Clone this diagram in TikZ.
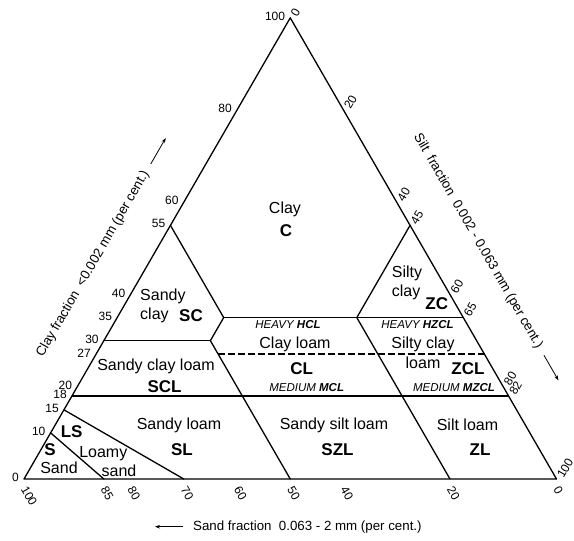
\documentclass[tikz,border=0pt]{standalone}
\usepackage{fontspec}
\setmainfont{Liberation Sans}
\usetikzlibrary{arrows.meta}
% ternary point: name, clay, silt  (pixel-based units, y up)
\newcommand{\tcoord}[3]{\coordinate (#1) at ({24+5.325*(#3+0.5*#2)},{62+4.6116*#2});}
\begin{document}
\begin{tikzpicture}[x=1pt,y=1pt,
  bline/.style={line width=1.3pt, line join=round, line cap=round},
  thickline/.style={line width=2.1pt},
  dashline/.style={line width=2pt, dash pattern=on 6.5pt off 3.5pt},
  cls/.style={font=\fontsize{16}{18}\selectfont, inner sep=0pt},
  abbr/.style={font=\fontsize{17}{19}\selectfont\bfseries, inner sep=0pt},
  grd/.style={font=\fontsize{11.5}{13}\selectfont\itshape, inner sep=0pt},
  lnum/.style={font=\fontsize{12}{14}\selectfont, inner sep=0pt, anchor=east},
  rnum/.style={font=\fontsize{12}{14}\selectfont, inner sep=0pt, anchor=west, rotate=60},
  bnum/.style={font=\fontsize{12}{14}\selectfont, inner sep=0pt, anchor=west, rotate=-60},
  axtitle/.style={font=\fontsize{13.3}{15}\selectfont, inner sep=0pt},
  axarrow/.style={line width=0.8pt, -{Stealth[length=5pt,width=3.6pt]}}
]
\fill[white] (0,0) rectangle (574,541);
\useasboundingbox (0,0) rectangle (574,541);

% corners and class-boundary points (clay, silt)
\tcoord{BL}{0}{0}
\tcoord{BR}{0}{100}
\tcoord{T}{100}{0}
\tcoord{L55}{55}{0}
\tcoord{R55}{55}{45}
\tcoord{P3520}{35}{20}
\tcoord{P3545}{35}{45}
\tcoord{R35}{35}{65}
\tcoord{L30}{30}{0}
\tcoord{P3020}{30}{20}
\tcoord{P27}{27}{23}
\tcoord{R27}{27}{73}
\tcoord{L18}{18}{0}
\tcoord{R18}{18}{82}
\tcoord{B50}{0}{50}
\tcoord{B20}{0}{80}
\tcoord{L15}{15}{0}
\tcoord{B70}{0}{30}
\tcoord{L10}{10}{0}
\tcoord{B85}{0}{15}

% boundaries
\draw[bline] (BL) -- (BR) -- (T) -- cycle;
\draw[bline] (L55) -- (P3520) -- (P3020) -- (B50);
\draw[bline] (R55) -- (P3545) -- (B20);
\draw[bline] (P3520) -- (R35);
\draw[bline] (L30) -- (P3020);
\draw[dashline] (P27) -- (R27);
\draw[thickline] (L18) -- (R18);
\draw[bline] (L15) -- (B70);
\draw[bline] (L10) -- (B85);

% left (clay) numbers
\foreach \v in {100,80,60,55,40,35,30,27,20,18,15,10,0}
  \node[lnum] (lnum\v) at ({24+5.325*0.5*\v-5},{62+4.6116*\v+1.5}) {\v};

% right (silt) numbers: clay/silt
\foreach \c/\z in {100/0,80/20,60/40,55/45,40/60,35/65,20/80,18/82,0/100}
  \node[rnum] (rnum\z) at ({24+5.325*(\z+0.5*\c)+3.5},{62+4.6116*\c+2}) {\z};

% bottom (sand) numbers
\foreach \s in {100,85,80,70,60,50,40,20,0}
  \node[bnum] (bnum\s) at ({24+5.325*(100-\s)},{62-8}) {\s};

% class names
\node[cls] (nC) at (285,332) {Clay};
\node[abbr] (aC) at (286,310) {C};

\node[cls, anchor=west] (nSC1) at (140,244.3) {Sandy};
\node[cls, anchor=west] (nSC2) at (140,226) {clay};
\node[abbr] (aSC) at (191,225) {SC};

\node[cls] (nSCL) at (156,175) {Sandy clay loam};
\node[abbr] (aSCL) at (164.5,154.3) {SCL};

\node[grd] (hHCL) at (288,216) {HEAVY \textbf{HCL}};
\node[cls] (nCL) at (295,197) {Clay loam};
\node[abbr] (aCL) at (301.7,172.7) {CL};
\node[grd] (mMCL) at (306.7,153.7) {MEDIUM \textbf{MCL}};

\node[grd] (hHZCL) at (417.5,216) {HEAVY \textbf{HZCL}};
\node[cls] (nZCL1) at (423,197) {Silty clay};
\node[cls] (nZCL2) at (423,178.3) {loam};
\node[abbr] (aZCL) at (468,172.7) {ZCL};
\node[grd] (mMZCL) at (454,153.7) {MEDIUM \textbf{MZCL}};

\node[cls, anchor=west] (nZC1) at (391.7,267.7) {Silty};
\node[cls, anchor=west] (nZC2) at (391.7,248.3) {clay};
\node[abbr] (aZC) at (436.7,237.7) {ZC};

\node[cls] (nSL) at (179,116) {Sandy loam};
\node[abbr] (aSL) at (182,91) {SL};

\node[abbr] (aLS) at (71.7,109.3) {LS};
\node[abbr] (aS) at (50,91) {S};
\node[cls] (nS) at (59,73.7) {Sand};
\node[cls] (nLS1) at (103.3,87) {Loamy};
\node[cls] (nLS2) at (119,70.3) {sand};

\node[cls] (nSZL) at (334,116) {Sandy silt loam};
\node[abbr] (aSZL) at (337.5,91) {SZL};

\node[cls] (nZL) at (467.5,116) {Silt loam};
\node[abbr] (aZL) at (480,91) {ZL};

% axis titles with arrows
\node[axtitle, rotate=60] (ctitle) at (93,277) {Clay fraction\ \ <0.002 mm (per cent.)};
\coordinate (ca1) at ([shift={(60:9pt)}]ctitle.east);
\coordinate (ca2) at ([shift={(60:39pt)}]ctitle.east);
\draw[axarrow] (ca1) -- (ca2);

\node[axtitle, rotate=-60] (ztitle) at (478,300) {Silt\ \ fraction\ \ 0.002 - 0.063 mm (per cent.)};
\coordinate (za1) at ([shift={(-60:9pt)}]ztitle.east);
\coordinate (za2) at ([shift={(-60:38pt)}]ztitle.east);
\draw[axarrow] (za1) -- (za2);

\node[axtitle, anchor=west] (stitle) at (193,14.3) {Sand fraction\ \ 0.063 - 2 mm (per cent.)};
\coordinate (sa1) at ([xshift=-10pt]stitle.west);
\coordinate (sa2) at ([xshift=-38pt]stitle.west);
\draw[axarrow] (sa1) -- (sa2);
\end{tikzpicture}
\end{document}
